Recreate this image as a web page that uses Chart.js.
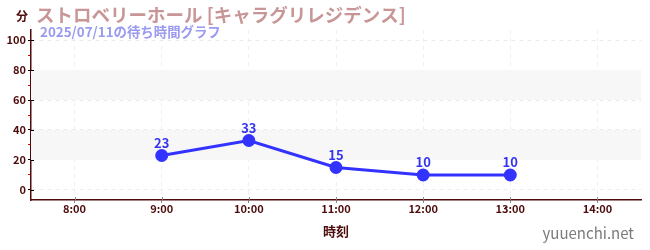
<!DOCTYPE html>
<html>
<head>
<meta charset="utf-8">
<script src="https://cdn.jsdelivr.net/npm/chart.js@4"></script>
<style>
  body { margin: 0; background: #fff; }
</style>
</head>
<body>
<canvas id="myChart" width="650" height="250"></canvas>
<script>
const hours = [9, 10, 11, 12, 13];
const waits = [23, 33, 15, 10, 10];
const xTicks = [8, 9, 10, 11, 12, 13, 14];
const yTicks = [0, 10, 20, 30, 40, 50, 60, 70, 80, 90, 100];
const bands = [[20, 40], [60, 80]];

const titleText = 'ストロベリーホール [キャラグリレジデンス]';
const subText = '2025/07/11の待ち時間グラフ';
const FONT = '"Noto Sans CJK JP", "Noto Sans", sans-serif';
const dark = '#4d0b0b';

const decor = {
  id: 'decor',
  beforeDatasetsDraw(chart) {
    const c = chart.ctx, y = chart.scales.y, a = chart.chartArea;
    c.save();
    c.fillStyle = '#f7f7f7';
    bands.forEach(b => {
      const t = y.getPixelForValue(b[1]), btm = y.getPixelForValue(b[0]);
      c.fillRect(a.left, t, a.right - a.left, btm - t);
    });
    c.restore();
  },
  afterDatasetsDraw(chart) {
    const c = chart.ctx;
    const meta = chart.getDatasetMeta(0);
    c.save();
    c.fillStyle = '#3535f0';
    c.font = 'bold 13px ' + FONT;
    c.textAlign = 'center';
    c.textBaseline = 'bottom';
    meta.data.forEach((p, i) => {
      c.fillText(waits[i], p.x, p.y - 6);
    });
    c.restore();
  },
  afterDraw(chart) {
    const c = chart.ctx, a = chart.chartArea;
    const xs = chart.scales.x, ys = chart.scales.y;
    c.save();
    // inner halves of the tick marks
    c.lineWidth = 1;
    c.strokeStyle = '#000';
    yTicks.filter(v => v % 20 === 0).forEach(v => {
      const py = Math.round(ys.getPixelForValue(v)) + 0.5;
      c.beginPath(); c.moveTo(a.left, py); c.lineTo(a.left + 3, py); c.stroke();
    });
    c.strokeStyle = '#888';
    xTicks.forEach(v => {
      const px = Math.round(xs.getPixelForValue(v)) + 0.5;
      c.beginPath(); c.moveTo(px, a.bottom - 3); c.lineTo(px, a.bottom); c.stroke();
    });

    c.textBaseline = 'middle';
    c.fillStyle = dark;
    c.font = 'bold 12px ' + FONT;
    c.fillText('分', 16, 16);
    c.fillStyle = '#c89696';
    c.font = 'bold 18.5px ' + FONT;
    c.fillText(titleText, 36, 15);
    c.fillStyle = '#9a9af0';
    c.font = 'bold 13.4px ' + FONT;
    c.fillText(subText, 40, 32);
    c.fillStyle = '#7a7a7a';
    c.font = '15px ' + FONT;
    c.textAlign = 'right';
    c.fillText('yuuenchi.net', 634, 233);
    c.restore();
  }
};

new Chart(document.getElementById('myChart'), {
  type: 'line',
  data: {
    labels: hours,
    datasets: [{
      data: hours.map((h, i) => ({ x: h, y: waits[i] })),
      borderColor: '#3333ff',
      backgroundColor: '#3333ff',
      borderWidth: 3,
      pointRadius: 5,
      pointHoverRadius: 5,
      tension: 0
    }]
  },
  options: {
    responsive: false,
    animation: false,
    layout: { padding: { left: 0, right: 9, top: 30, bottom: 0 } },
    plugins: { legend: { display: false }, tooltip: { enabled: false } },
    scales: {
      x: {
        type: 'linear',
        min: 7.5,
        max: 14.5,
        afterBuildTicks: s => { s.ticks = xTicks.map(v => ({ value: v })); },
        afterFit: s => { s.height = 50; },
        border: { color: dark, width: 1.5, dash: [4, 4] },
        grid: { color: '#efefef', tickColor: '#888', tickLength: 3 },
        ticks: {
          color: dark,
          font: { family: FONT, size: 11, weight: 'bold' },
          padding: -1,
          callback: v => v + ':00'
        },
        title: {
          display: true,
          text: '時刻',
          color: dark,
          font: { family: FONT, size: 13, weight: 'bold' },
          padding: { top: 0, bottom: 11.5 }
        }
      },
      y: {
        min: -6.67,
        max: 106.67,
        afterBuildTicks: s => { s.ticks = yTicks.map(v => ({ value: v })); },
        afterFit: s => { s.width = 31; },
        border: { color: dark, width: 1.5, dash: [4, 4] },
        grid: {
          color: ctx => ctx.tick && ctx.tick.value % 20 === 0 ? '#eaeaea' : 'rgba(0,0,0,0)',
          tickColor: ctx => ctx.tick && ctx.tick.value % 20 === 0 ? '#000' : '#e00000',
          tickLength: 3
        },
        ticks: {
          color: dark,
          font: { family: FONT, size: 11, weight: 'bold' },
          padding: 2,
          callback: v => v % 20 === 0 ? v : ''
        }
      }
    }
  },
  plugins: [decor]
});
</script>
</body>
</html>
